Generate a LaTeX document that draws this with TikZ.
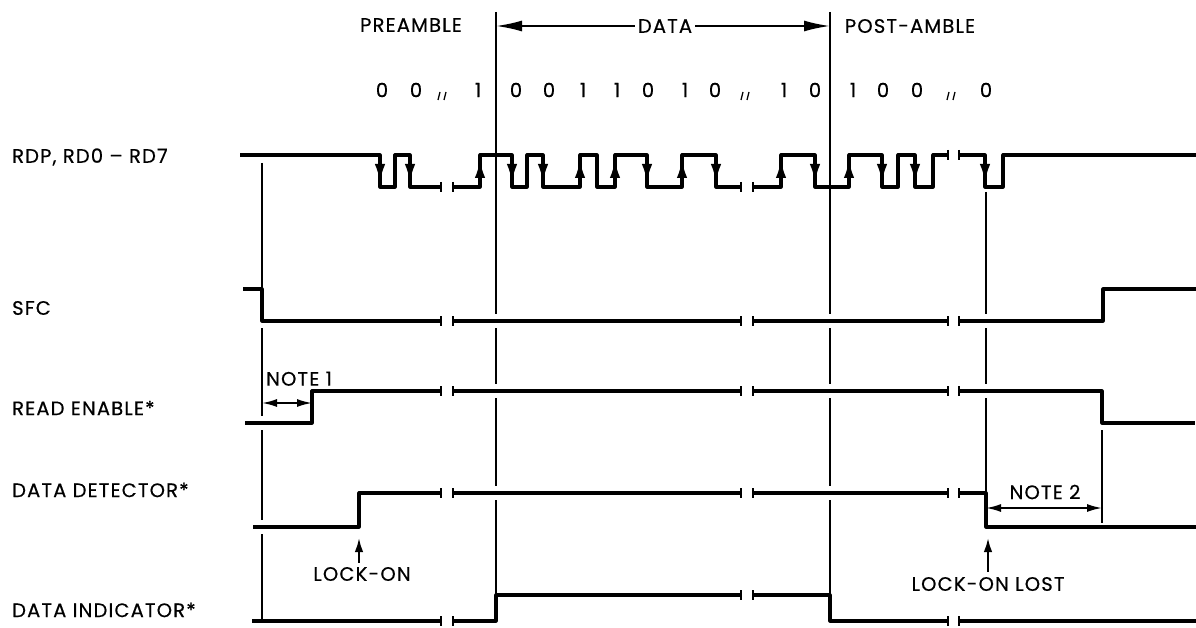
\documentclass[tikz,border=0pt]{standalone}
\usepackage{fontspec}
\setmainfont{Poppins}[LetterSpace=6,FakeBold=0.5]
\usetikzlibrary{arrows.meta}
\tikzset{
  sig/.style={line width=3.2pt, line join=round},
  guide/.style={line width=1.6pt},
  brk/.style={line width=2pt},
  earr/.style={-{Latex[length=18pt,width=10.5pt]}, line width=2.6pt},
  bigarr/.style={-{Latex[length=26pt,width=11pt]}, line width=2pt},
  dimarr/.style={{Latex[length=15pt,width=8pt]}-{Latex[length=15pt,width=8pt]}, line width=1.8pt},
  larr/.style={-{Latex[length=14pt,width=8.5pt]}, line width=2pt},
  lbl/.style={anchor=west, inner sep=0pt},
  txt/.style={inner sep=3pt},
  bit/.style={inner sep=0pt}
}
\newcommand\brkmark[2]{\draw[brk] (#1,#2-5) -- (#1,#2+5);}
\newcommand\gapmark[1]{\draw[line width=1.3pt] (#1-3,92) -- (#1-5,100) (#1+3,92) -- (#1+1,100);}
\newcommand\dnarr[1]{\draw[earr] (#1,159) -- (#1,182);}
\newcommand\uparr[1]{\draw[earr] (#1,183) -- (#1,160);}
\begin{document}
\begin{tikzpicture}[x=1pt,y=-1pt,font=\fontsize{19.5}{22}\selectfont]
\useasboundingbox (0,0) rectangle (1196,628);

% ---------- left labels
\node[lbl] (lrdp) at (12,157) {RDP, RD0 – RD7};
\node[lbl] (lsfc) at (12,308) {SFC};
\node[lbl] (lre)  at (12,408) {READ ENABLE*};
\node[lbl] (ldd)  at (12,490) {DATA DETECTOR*};
\node[lbl] (ldi)  at (12,610) {DATA INDICATOR*};

% ---------- top labels
\node[txt] (pre)  at (411,25) {PREAMBLE};
\node[txt] (data) at (665,26) {DATA};
\node[txt] (post) at (910,26) {POST-AMBLE};
\coordinate (dL) at (496,26);
\coordinate (dR) at (830,26);
\draw[bigarr] (data.west) -- (dL);
\draw[bigarr] (data.east) -- (dR);

% ---------- bit values
\foreach \x/\b [count=\i] in {382/0,416/0,478/1,516/0,549/0,583/1,617/1,648/0,685/1,715/0,784/1,815/0,853/1,883/0,917/0,986/0}
  \node[bit] (b\i) at (\x,90) {\b};
\gapmark{443}
\gapmark{746}
\gapmark{952}

% ---------- guide lines
\draw[guide] (262,163) -- (262,289) (262,328) -- (262,416) (262,430) -- (262,520) (262,534) -- (262,622);
\draw[guide] (496,12) -- (496,314) (496,328) -- (496,384) (496,398) -- (496,486) (496,500) -- (496,595);
\draw[guide] (830,12) -- (830,314) (830,328) -- (830,384) (830,398) -- (830,486) (830,500) -- (830,595);
\draw[guide] (986,192) -- (986,314) (986,328) -- (986,384) (986,398) -- (986,493);
\draw[guide] (1102,430) -- (1102,523);

% ---------- RDP
\draw[sig] (240,155) -- (380,155) -- (380,187) -- (395,187) -- (395,155) -- (410,155) -- (410,187) -- (441,187);
\draw[sig] (453,187) -- (480,187) -- (480,155) -- (512,155) -- (512,187) -- (527,187) -- (527,155) -- (543,155)
  -- (543,187) -- (580,187) -- (580,155) -- (597,155) -- (597,187) -- (615,187) -- (615,155) -- (647,155)
  -- (647,187) -- (682,187) -- (682,155) -- (716,155) -- (716,187) -- (741,187);
\draw[sig] (753,187) -- (781,187) -- (781,155) -- (815,155) -- (815,187) -- (849,187) -- (849,155) -- (882,155)
  -- (882,187) -- (898,187) -- (898,155) -- (915,155) -- (915,187) -- (933,187) -- (933,155) -- (948,155);
\draw[sig] (959,155) -- (985,155) -- (985,187) -- (1003,187) -- (1003,155) -- (1196,155);
\brkmark{441}{187}\brkmark{453}{187}
\brkmark{741}{187}\brkmark{753}{187}
\brkmark{948}{155}\brkmark{959}{155}
\foreach \x in {380,410,512,543,647,716,815,882,915,985} {\dnarr{\x}}
\foreach \x in {480,580,615,682,781,849} {\uparr{\x}}

% ---------- SFC
\draw[sig] (243,289) -- (262,289) -- (262,321) -- (441,321);
\draw[sig] (453,321) -- (741,321);
\draw[sig] (753,321) -- (948,321);
\draw[sig] (959,321) -- (1103,321) -- (1103,289) -- (1196,289);
\brkmark{441}{321}\brkmark{453}{321}\brkmark{741}{321}\brkmark{753}{321}\brkmark{948}{321}\brkmark{959}{321}

% ---------- READ ENABLE
\draw[sig] (245,423) -- (312,423) -- (312,391) -- (441,391);
\draw[sig] (453,391) -- (741,391);
\draw[sig] (753,391) -- (948,391);
\draw[sig] (959,391) -- (1102,391) -- (1102,423) -- (1195,423);
\brkmark{441}{391}\brkmark{453}{391}\brkmark{741}{391}\brkmark{753}{391}\brkmark{948}{391}\brkmark{959}{391}
\node[txt,anchor=south west,inner sep=0pt] (n1) at (266,386) {NOTE 1};
\coordinate (n1a) at (262,403);
\coordinate (n1b) at (312,403);
\draw[dimarr] (n1a) -- (n1b);

% ---------- DATA DETECTOR
\draw[sig] (253,527) -- (359,527) -- (359,493) -- (441,493);
\draw[sig] (453,493) -- (741,493);
\draw[sig] (753,493) -- (948,493);
\draw[sig] (959,493) -- (986,493) -- (986,527) -- (1196,527);
\brkmark{441}{493}\brkmark{453}{493}\brkmark{741}{493}\brkmark{753}{493}\brkmark{948}{493}\brkmark{959}{493}
\node[txt] (n2) at (1045,492) {NOTE 2};
\coordinate (n2a) at (986,508);
\coordinate (n2b) at (1102,508);
\draw[dimarr] (n2a) -- (n2b);

\node[txt] (lock) at (362,574) {LOCK-ON};
\coordinate (locktip) at (359,538);
\draw[larr] (lock.north -| locktip) ++(0,-1) -- (locktip);
\node[txt] (lost) at (988,584) {LOCK-ON LOST};
\coordinate (losttip) at (988,538);
\draw[larr] (lost.north -| losttip) ++(0,-2) -- (losttip);

% ---------- DATA INDICATOR
\draw[sig] (252,621) -- (441,621);
\draw[sig] (453,621) -- (496,621) -- (496,595) -- (741,595);
\draw[sig] (753,595) -- (830,595) -- (830,621) -- (948,621);
\draw[sig] (959,621) -- (1196,621);
\brkmark{441}{621}\brkmark{453}{621}\brkmark{741}{595}\brkmark{753}{595}\brkmark{948}{621}\brkmark{959}{621}
\end{tikzpicture}
\end{document}
